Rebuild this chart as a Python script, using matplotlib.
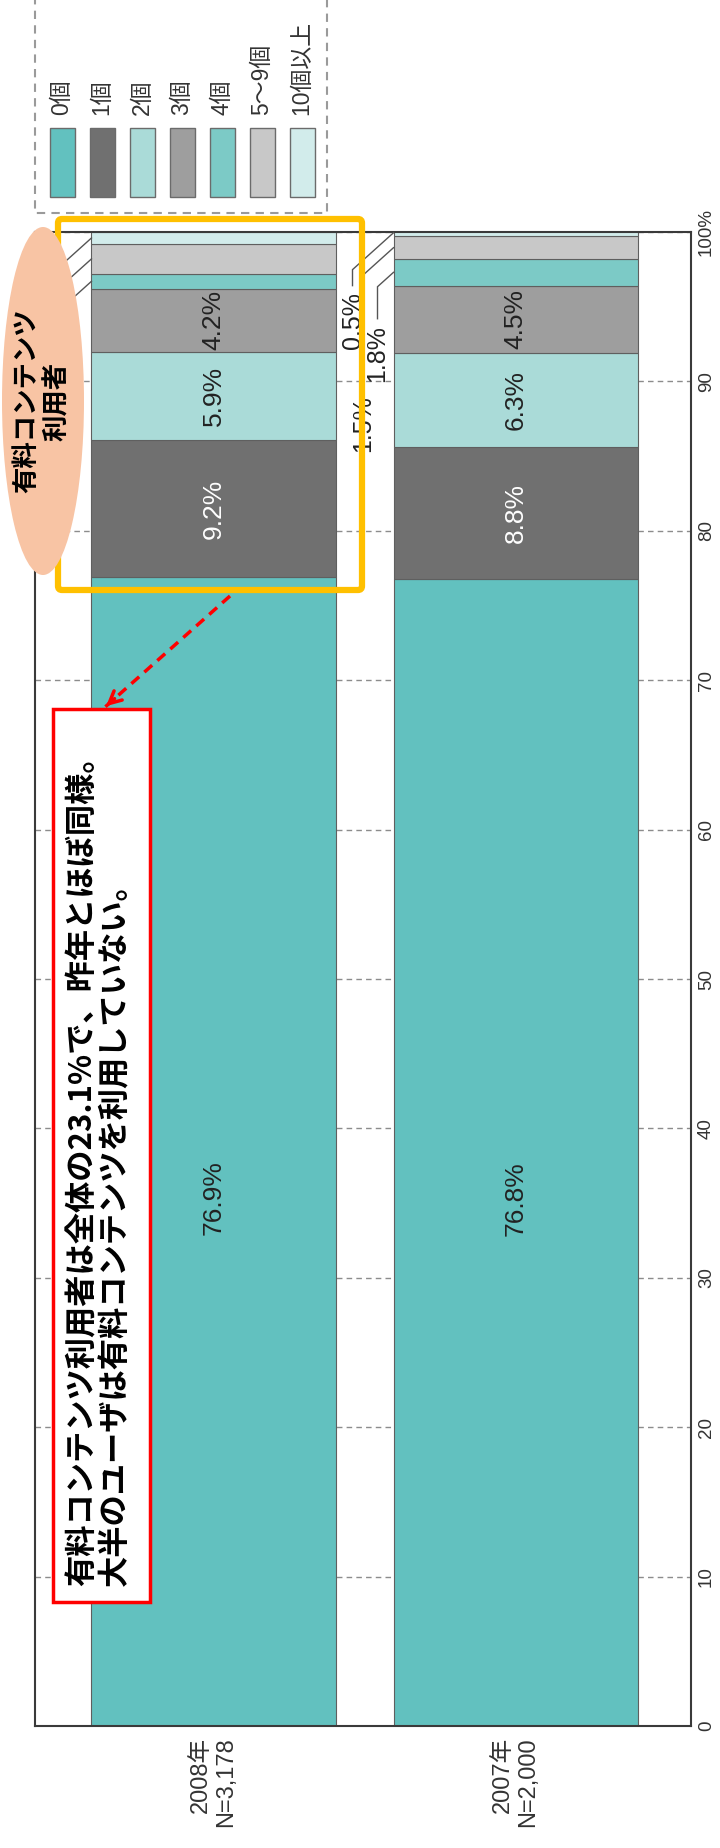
import matplotlib
matplotlib.use('Agg')
import matplotlib.pyplot as plt
from matplotlib.patches import Rectangle, Ellipse, FancyBboxPatch
import numpy as np

plt.rcParams['font.family'] = ['Noto Sans CJK JP', 'DejaVu Sans']
LAT = ['Liberation Sans', 'Noto Sans CJK JP', 'DejaVu Sans']

# ---------------- data ----------------
years = ['2008年\nN=3,178', '2007年\nN=2,000']
categories = ['0個', '1個', '2個', '3個', '4個', '5～9個', '10個以上']
vals_2008 = [76.9, 9.2, 5.9, 4.2, 1.0, 2.0, 0.8]
vals_2007 = [76.8, 8.8, 6.3, 4.5, 1.8, 1.5, 0.5]
labels_2007_small = ['1.8%', '1.5%', '0.5%']   # for 4個, 5～9個, 10個以上
value_ticks = [0, 10, 20, 30, 40, 50, 60, 70, 80, 90, 100]
value_tick_labels = ['0', '10', '20', '30', '40', '50', '60', '70', '80', '90', '100%']
colors = ['#62C1BF', '#707070', '#AADBD8', '#9E9E9E', '#7CCAC6', '#C8C8C8', '#D2ECEB']

note_title = '有料コンテンツ\n利用者'
note_text = '有料コンテンツ利用者は全体の23.1%で、昨年とほぼ同様。\n大半のユーザは有料コンテンツを利用していない。'

# ---------------- figure ----------------
W, H = 720, 1848
fig = plt.figure(figsize=(W / 100, H / 100), dpi=100)
ax_l, ax_r, ax_t, ax_b = 35, 691, 232, 1726
ax = fig.add_axes([ax_l / W, (H - ax_b) / H, (ax_r - ax_l) / W, (ax_b - ax_t) / H])

data = np.array([vals_2008, vals_2007])
x = np.arange(len(years))
bw = 0.808
bottoms = np.zeros(len(years))
starts = np.zeros((len(years), len(categories)))
cum = np.zeros((len(years), len(categories)))
for j, cat in enumerate(categories):
    ax.bar(x, data[:, j], bw, bottom=bottoms, color=colors[j],
           edgecolor='#5f5f5f', linewidth=0.8, zorder=2, clip_on=True)
    starts[:, j] = bottoms
    cum[:, j] = bottoms + data[:, j] / 2
    bottoms = bottoms + data[:, j]

ax.set_xlim(-0.591, 1.581)
ax.set_ylim(0, 100)

# px -> data scale factors
sx = (ax_r - ax_l) / (1.581 + 0.591)
sy = (ax_b - ax_t) / 100.0

# grid
ax.set_axisbelow(True)
ax.yaxis.grid(True, color='#8c8c8c', linestyle=(0, (4, 3)), linewidth=1.0, zorder=0)
ax.xaxis.grid(False)

# spines
for s in ax.spines.values():
    s.set_color('#3a3a3a')
    s.set_linewidth(1.5)

# value axis on right, rotated
ax.yaxis.tick_right()
ax.set_yticks(value_ticks)
ax.set_yticklabels(value_tick_labels)
ax.tick_params(axis='y', length=0, pad=5, labelrotation=90, labelsize=13.5, labelcolor='#333333')
for t in ax.get_yticklabels():
    t.set_va('center')
    t.set_family(LAT)

# categories at bottom
ax.set_xticks(x)
ax.set_xticklabels(years)
ax.tick_params(axis='x', length=0, pad=8, labelrotation=90, labelsize=17, labelcolor='#333333')
for t in ax.get_xticklabels():
    t.set_multialignment('right')
    t.set_family(LAT)

# value labels in big segments (position within segment as fraction)
label_frac = [0.46, 0.5, 0.5, 0.5]
for i in range(len(years)):
    for j in range(4):
        v = data[i, j]
        ax.text(x[i], starts[i, j] + v * label_frac[j], f'{v}%', rotation=90,
                ha='center', va='center', fontsize=19, family=LAT,
                color='white' if j == 1 else '#222222', zorder=4)

# leader lines + labels for small segments
def leader(i, j, dx_px, leg_px, label=None):
    xe = x[i] - bw / 2
    y0 = cum[i, j]
    ex = xe + dx_px / sx
    ey = y0 - abs(dx_px) * 0.9 / sy
    fy = ey - leg_px / sy
    ax.plot([xe, ex, ex], [y0, ey, fy], color='#555555', lw=1.0, zorder=3, clip_on=False,
            solid_joinstyle='miter')
    if label:
        ax.text(ex, fy - 6 / sy, label, rotation=90, ha='center', va='top',
                fontsize=18, family=LAT, color='#222222', zorder=4)

leader(1, 6, -41, 16, labels_2007_small[2])
leader(1, 5, -30, 115, labels_2007_small[1])
leader(1, 4, -16, 32, labels_2007_small[0])
leader(0, 6, -30, 80)
leader(0, 5, -27, 80)
leader(0, 4, -22, 80)

# ---------------- overlay (pixel coordinates) ----------------
ov = fig.add_axes([0, 0, 1, 1])
ov.set_xlim(0, W)
ov.set_ylim(H, 0)
ov.axis('off')

# legend
lx0, lstep = 62, 40
for k, cat in enumerate(categories):
    cx = lx0 + lstep * k
    ov.add_patch(Rectangle((cx - 12.5, 128), 25, 69, facecolor=colors[k],
                           edgecolor='#6b6b6b', linewidth=1.0))
    ov.text(cx, 115, cat, rotation=90, ha='center', va='bottom', fontsize=16.5,
            family=LAT, color='#333333')
ov.add_patch(Rectangle((35, -10), 292, 223, fill=False, edgecolor='#9a9a9a',
                       linestyle=(0, (4, 3)), linewidth=1.5))

# yellow highlight
ov.add_patch(FancyBboxPatch((58, 219), 304, 371, boxstyle='round,pad=0,rounding_size=4',
                            fill=False, edgecolor='#FFC000', linewidth=4.5, zorder=5))

# ellipse
ov.add_patch(Ellipse((43, 401), 82, 348, facecolor='#F8C4A4', edgecolor='none', zorder=6))
ov.text(42, 401, note_title, rotation=90, ha='center', va='center', fontsize=19,
        fontweight='bold', linespacing=1.15, zorder=7, color='black')

# red callout
ov.add_patch(Rectangle((53, 709), 97, 893, facecolor='white', edgecolor='#FF0000',
                       linewidth=2.5, zorder=5))
ov.text(99, 1586, note_text, rotation=90, ha='center', va='bottom', multialignment='left',
        fontsize=22.5, fontweight='bold', linespacing=1.03, zorder=6, color='black')

# red dashed arrow
sx0, sy0, ex0, ey0 = 230, 596, 104, 708
ov.plot([sx0, ex0], [sy0, ey0], color='#FF0000', lw=2.5, linestyle=(0, (3, 2)), zorder=8)
ov.annotate('', xy=(ex0, ey0), xytext=(ex0 + (sx0 - ex0) * 0.1, ey0 + (sy0 - ey0) * 0.1),
            arrowprops=dict(arrowstyle='->', color='#FF0000', lw=2.5, mutation_scale=22),
            zorder=8)

fig.savefig('out.png', dpi=100)
